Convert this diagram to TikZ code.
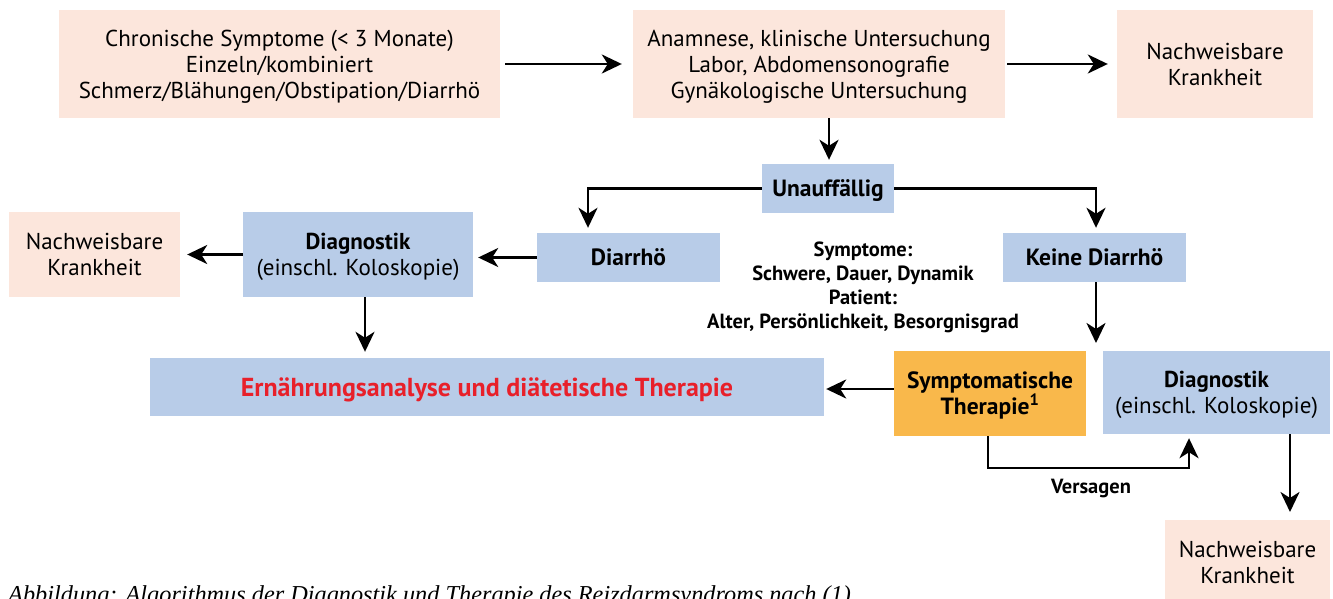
\documentclass[tikz,border=0pt]{standalone}
\usepackage{fontspec}
\setmainfont{PT Sans}
\newfontfamily\capfont{Liberation Serif}
\usetikzlibrary{arrows.meta}
\definecolor{peach}{HTML}{FCE6DC}
\definecolor{lblue}{HTML}{B8CCE8}
\definecolor{orng}{HTML}{F9B84B}
\definecolor{redtxt}{HTML}{E8202A}
\begin{document}
\begin{tikzpicture}[x=1pt,y=-1pt,
  box/.style={inner sep=0pt, align=center, text depth=0pt, font=\fontsize{23}{26}\selectfont},
  bfbox/.style={font=\fontsize{23.5}{26}\selectfont\bfseries},
  pbox/.style={box, fill=peach},
  bbox/.style={box, fill=lblue},
  obox/.style={box, fill=orng},
  arr/.style={line width=2.7pt, -{Stealth[length=20pt,width=19pt,inset=6pt]}},
]
\useasboundingbox (0,0) rectangle (1333,599);
\clip (0,0) rectangle (1333,599);
% nodes
\node[pbox, minimum width=441pt, minimum height=108pt] (chron) at (279.5,64)
  {Chronische Symptome (< 3 Monate)\\Einzeln/kombiniert\\Schmerz/Blähungen/Obstipation/Diarrhö};
\node[pbox, minimum width=372pt, minimum height=108pt] (anam) at (819,64)
  {Anamnese, klinische Untersuchung\\Labor, Abdomensonografie\\Gynäkologische Untersuchung};
\node[pbox, minimum width=196pt, minimum height=108pt] (nk1) at (1215,64)
  {Nachweisbare\\Krankheit};
\node[bbox, bfbox, minimum width=132pt, minimum height=49pt] (unauf) at (828,188.5) {Unauffällig};
\node[bbox, bfbox, minimum width=183pt, minimum height=49pt] (diar) at (628.5,257.5) {Diarrhö};
\node[bbox, bfbox, minimum width=183pt, minimum height=49pt] (keine) at (1094.5,257.5) {Keine Diarrhö};
\node[bbox, minimum width=230pt, minimum height=85pt] (diagL) at (358,254.5)
  {\textbf{Diagnostik}\\(einschl. Koloskopie)};
\node[pbox, minimum width=171pt, minimum height=85pt] (nk2) at (94.5,254.5)
  {Nachweisbare\\Krankheit};
\node[box, font=\fontsize{20.5}{24}\selectfont\bfseries] (mid) at (863,285)
  {Symptome:\\Schwere, Dauer, Dynamik\\Patient:\\Alter, Persönlichkeit, Besorgnisgrad};
\node[bbox, minimum width=674pt, minimum height=58pt, text=redtxt, font=\fontsize{26}{28}\selectfont\bfseries] (ern) at (487,387)
  {Ernährungsanalyse und diätetische Therapie};
\node[obox, bfbox, minimum width=192pt, minimum height=85pt] (symp) at (990,393.5)
  {Symptomatische\\Therapie\textsuperscript{1}};
\node[bbox, minimum width=227pt, minimum height=83pt] (diagR) at (1216.5,392.5)
  {\textbf{Diagnostik}\\(einschl. Koloskopie)};
\node[pbox, minimum width=165pt, minimum height=85pt] (nk3) at (1247.5,562.5)
  {Nachweisbare\\Krankheit};
\node[inner sep=0pt, font=\fontsize{20.5}{22}\selectfont\bfseries] (vers) at (1091,488) {Versagen};
\node[inner sep=0pt, anchor=base west, font=\capfont\fontsize{24.3}{28}\selectfont\itshape] (cap) at (8,602)
  {Abbildung: Algorithmus der Diagnostik und Therapie des Reizdarmsyndroms nach (1)};
% coordinates
\coordinate (kend) at (1096,343);
\coordinate (dend) at (1290,512);
% connectors
\draw[arr, shorten <=5pt, shorten >=11pt] (chron.east) -- (anam.west);
\draw[arr, shorten <=2pt, shorten >=9pt] (anam.east) -- (nk1.west);
\draw[arr, shorten >=4pt] (anam.south -| 829,0) -- (unauf.north -| 829,0);
\draw[arr, shorten >=5pt] (unauf.west) -| (diar.north -| 588,0);
\draw[arr, shorten >=5pt] (unauf.east) -| (keine.north -| 1096,0);
\draw[arr, shorten >=5pt] (diar.west) -- (diar.west -| diagL.east);
\draw[arr, shorten >=7pt] (diagL.west) -- (diagL.west -| nk2.east);
\draw[arr, shorten >=6pt] (diagL.south -| 365,0) -- (ern.north -| 365,0);
\draw[arr] (keine.south -| kend) -- (kend);
\draw[arr, shorten >=2pt] (symp.west |- 0,389) -- (ern.east |- 0,389);
\draw[arr, shorten >=4pt] (symp.south -| 988,0) -- (988,468) -- (1189,468) -- (diagR.south -| 1189,0);
\draw[arr] (diagR.south -| dend) -- (dend);
\end{tikzpicture}
\end{document}
